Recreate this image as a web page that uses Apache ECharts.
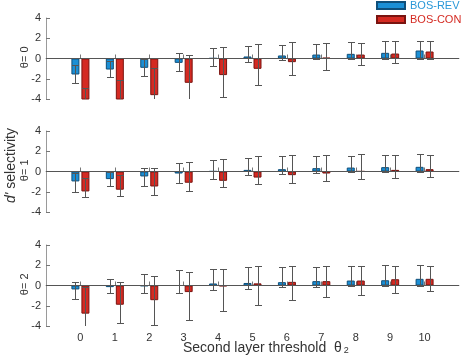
<!DOCTYPE html>
<html>
<head>
<meta charset="utf-8">
<script src="https://cdn.jsdelivr.net/npm/echarts@6/dist/echarts.min.js"></script>
<style>html,body{margin:0;padding:0;background:#fff}#c{width:462px;height:360px}</style>
</head>
<body>
<div id="c"></div>
<script>
// ---- data ----
const thresholds = ['0','1','2','3','4','5','6','7','8','9','10'];
const panelNames = ['θ= 0', 'θ= 1', 'θ= 2'];
const yTicks = [-4, -2, 0, 2, 4];

// theta = 0
const rev0   = [-1.58, -1.09, -0.92, -0.43, 0.03, 0.20, 0.30, 0.39, 0.46, 0.56, 0.79];
const rev0Lo = [-2.40, -1.84, -1.74, -1.25, -0.76, -0.39, -0.16, -0.02, -0.02, -0.02, -0.02];
const rev0Hi = [-0.69, -0.26, -0.08, 0.56, 0.99, 1.22, 1.35, 1.45, 1.61, 1.74, 1.74];
const con0   = [-5.00, -5.20, -3.62, -2.40, -1.64, -1.02, -0.36, 0.07, 0.39, 0.49, 0.69];
const con0Lo = [-7.00, -8.20, -6.30, -5.20, -3.78, -2.57, -1.61, -1.09, -0.66, -0.43, -0.05];
const con0Hi = [-2.90, -2.10, -0.92, 0.39, 1.12, 1.45, 1.61, 1.58, 1.55, 1.71, 1.68];

// theta = 1
const rev1   = [-0.98, -0.75, -0.49, -0.20, 0.02, 0.16, 0.23, 0.33, 0.39, 0.43, 0.46];
const rev1Lo = [-2.07, -1.48, -1.41, -1.15, -0.72, -0.36, -0.20, -0.10, -0.02, -0.02, -0.02];
const rev1Hi = [-0.16, 0.00, 0.33, 0.85, 1.18, 1.38, 1.51, 1.54, 1.54, 1.64, 1.77];
const con1   = [-1.97, -1.80, -1.48, -1.11, -0.92, -0.60, -0.36, -0.20, 0.02, 0.16, 0.23];
const con1Lo = [-2.56, -2.43, -2.30, -1.97, -1.57, -1.28, -1.11, -0.95, -0.79, -0.69, -0.59];
const con1Hi = [-0.66, -0.33, 0.30, 0.89, 1.28, 1.56, 1.64, 1.64, 1.74, 1.64, 1.64];

// theta = 2
const rev2   = [-0.39, -0.16, -0.05, 0.00, 0.20, 0.25, 0.33, 0.43, 0.49, 0.52, 0.66];
const rev2Lo = [-1.34, -0.72, -0.76, -0.72, -0.49, -0.30, -0.13, -0.10, -0.02, -0.02, -0.02];
const rev2Hi = [0.33, 0.62, 1.18, 1.50, 1.67, 1.78, 1.84, 1.87, 1.97, 2.00, 2.00];
const con2   = [-2.78, -1.90, -1.45, -0.65, -0.07, 0.21, 0.36, 0.43, 0.49, 0.62, 0.66];
const con2Lo = [-5.46, -3.73, -3.95, -3.37, -2.55, -1.95, -1.44, -1.11, -0.89, -0.75, -0.52];
const con2Hi = [-0.12, 0.36, 0.92, 1.34, 1.63, 1.88, 1.90, 1.90, 1.90, 1.90, 1.90];

const panels = [
  {rev: rev0, revLo: rev0Lo, revHi: rev0Hi, con: con0, conLo: con0Lo, conHi: con0Hi},
  {rev: rev1, revLo: rev1Lo, revHi: rev1Hi, con: con1, conLo: con1Lo, conHi: con1Hi},
  {rev: rev2, revLo: rev2Lo, revHi: rev2Hi, con: con2, conLo: con2Lo, conHi: con2Hi}
];

// ---- chart ----
const FONT = 'Liberation Sans, Arial, sans-serif';
const BLUE = '#1b8fd5', BLUE_B = '#0f4f7a';
const RED = '#d42a22', RED_B = '#7a1410';
const ERR = '#555555';
const BAR_W = 8, HALF_OFF = 5;

// category axis padded with an empty slot on each side
const cats = ['-1'].concat(thresholds, ['11']);
const isReal = v => v !== '-1' && v !== '11';

const chart = echarts.init(document.getElementById('c'), null, {renderer: 'canvas'});

const grids = [], xAxes = [], yAxes = [], series = [], graphics = [];
const tops = [18, 131, 245];
const GRID_H = 81;
panels.forEach((p, i) => {
  grids.push({left: 46, right: 3, top: tops[i], height: GRID_H});
  xAxes.push({
    type: 'category', gridIndex: i, data: cats, boundaryGap: false,
    axisLine: {show: true, lineStyle: {color: '#9a9a9a', width: 1}},
    axisTick: {show: true, inside: true, length: 4, lineStyle: {color: '#777'},
               interval: (idx, v) => isReal(v)},
    axisLabel: {show: i === 2, interval: 0, margin: 6, fontFamily: FONT, fontSize: 11, color: '#333',
                formatter: v => isReal(v) ? v : ''},
    splitLine: {show: false}
  });
  yAxes.push({
    type: 'value', gridIndex: i, min: yTicks[0], max: yTicks[yTicks.length - 1], interval: 2,
    axisLine: {show: true, lineStyle: {color: '#9a9a9a', width: 1}},
    axisTick: {show: true, inside: true, length: 4, lineStyle: {color: '#777'}},
    axisLabel: {margin: 5, fontFamily: FONT, fontSize: 11, color: '#333'},
    splitLine: {show: false}
  });
  graphics.push({
    type: 'text', left: 19, top: tops[i] + GRID_H / 2 - 12, rotation: Math.PI / 2,
    style: {text: panelNames[i], fontFamily: FONT, fontSize: 11, fill: '#333'}
  });
  const mk = (vals) => vals.map((v, k) => [thresholds[k], v]);
  const mkErr = (lo, hi) => lo.map((v, k) => [thresholds[k], v, hi[k]]);
  series.push({
    name: 'BOS-REV', type: 'bar', xAxisIndex: i, yAxisIndex: i, data: mk(p.rev),
    barWidth: BAR_W, barGap: '25%', clip: true,
    itemStyle: {color: BLUE, borderColor: BLUE_B, borderWidth: 1}
  });
  series.push({
    name: 'BOS-CON', type: 'bar', xAxisIndex: i, yAxisIndex: i, data: mk(p.con),
    barWidth: BAR_W, barGap: '25%', clip: true,
    itemStyle: {color: RED, borderColor: RED_B, borderWidth: 1}
  });
  const errRender = (off) => (params, api) => {
    const x = api.value(0);
    const a = api.coord([x, api.value(1)]);
    const b = api.coord([x, api.value(2)]);
    const cx = Math.round(a[0] + off) + 0.5;
    const y1 = Math.round(a[1]) + 0.5, y2 = Math.round(b[1]) + 0.5;
    const hw = 3.5;
    const st = {stroke: ERR, lineWidth: 1};
    return {type: 'group', children: [
      {type: 'line', shape: {x1: cx, y1: y1, x2: cx, y2: y2}, style: st},
      {type: 'line', shape: {x1: cx - hw, y1: y1, x2: cx + hw, y2: y1}, style: st},
      {type: 'line', shape: {x1: cx - hw, y1: y2, x2: cx + hw, y2: y2}, style: st}
    ]};
  };
  series.push({
    name: 'errREV' + i, type: 'custom', xAxisIndex: i, yAxisIndex: i, clip: true, z: 5,
    data: mkErr(p.revLo, p.revHi), encode: {x: 0, y: [1, 2]}, renderItem: errRender(-HALF_OFF),
    silent: true
  });
  series.push({
    name: 'errCON' + i, type: 'custom', xAxisIndex: i, yAxisIndex: i, clip: true, z: 5,
    data: mkErr(p.conLo, p.conHi), encode: {x: 0, y: [1, 2]}, renderItem: errRender(HALF_OFF),
    silent: true,
    markLine: {silent: true, symbol: 'none', label: {show: false},
               lineStyle: {color: '#555', width: 1, type: 'solid'},
               data: [{yAxis: 0}], animation: false}
  });
});

graphics.push(
  {type: 'text', left: 4, top: 128, rotation: Math.PI / 2,
   style: {text: "{i|d'} selectivity", fontFamily: FONT, fontSize: 14, fill: '#333',
           rich: {i: {fontStyle: 'italic', fontSize: 14, fontFamily: FONT, fill: '#333'}}}},
  {type: 'text', left: 183, top: 341,
   style: {text: 'Second layer threshold  θ{s|2}', fontFamily: FONT, fontSize: 14, fill: '#333',
           rich: {s: {fontSize: 9, fontFamily: FONT, fill: '#333', verticalAlign: 'bottom', padding: [6, 0, 0, 2]}}}}
);

chart.setOption({
  animation: false,
  textStyle: {fontFamily: FONT},
  legend: {
    data: [{name: 'BOS-REV', textStyle: {color: '#2a98d8'}},
           {name: 'BOS-CON', textStyle: {color: '#d42a22'}}],
    orient: 'vertical', left: 376, top: 0, padding: 0, itemWidth: 28, itemHeight: 7, itemGap: 3,
    icon: 'rect', textStyle: {fontFamily: FONT, fontSize: 11}, selectedMode: false
  },
  grid: grids, xAxis: xAxes, yAxis: yAxes, series: series,
  graphic: graphics
});
</script>
</body>
</html>
